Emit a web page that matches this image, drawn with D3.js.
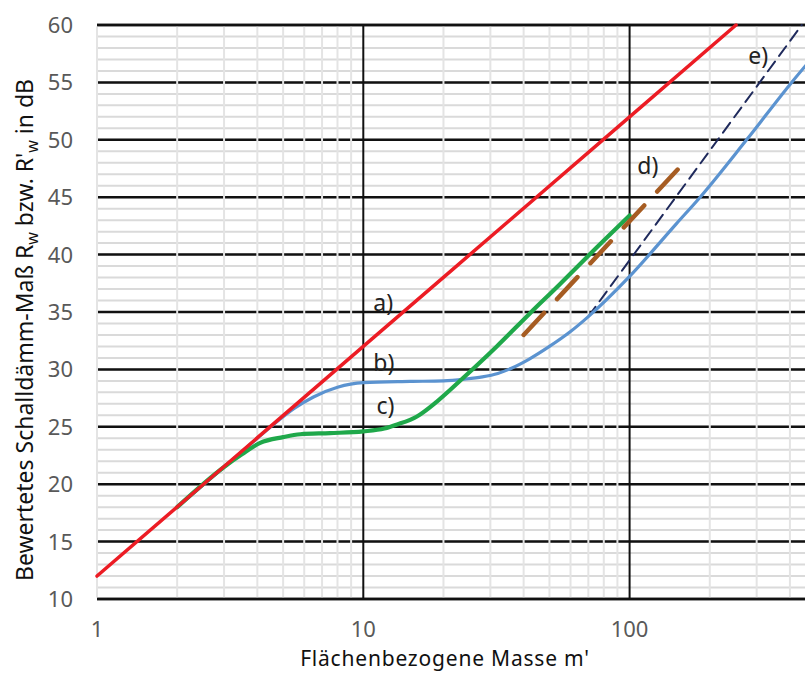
<!DOCTYPE html>
<html>
<head>
<meta charset="utf-8">
<script src="https://cdn.jsdelivr.net/npm/d3@7"></script>
<style>
  body { margin: 0; background: #fff; }
  svg { display: block; font-family: "Noto Sans", "Open Sans", sans-serif; }
</style>
</head>
<body>
<div id="chart"></div>
<script>
// curve a) - mass law
const massA = [1, 10, 100, 251];
const rA = [12, 32, 52, 60];

// curve b)
const massB = [2, 3, 4, 4.6, 5.5, 6.5, 8, 10, 15, 20, 24, 28, 32, 36, 42, 50, 60, 70, 100, 150, 184, 275, 406, 500];
const rB = [18, 21.5, 24, 25.2, 26.6, 27.6, 28.45, 28.85, 28.95, 29.0, 29.15, 29.35, 29.65, 30.1, 30.9, 32.0, 33.3, 34.6, 38.1, 42.7, 45, 50, 55, 57.5];

// curve c)
const massC = [2, 3, 3.5, 4.1, 5, 5.8, 7.5, 10, 12, 13.4, 15.9, 18.9, 23.7, 31.7, 42.3, 54.6, 70, 100];
const rC = [18, 21.5, 22.6, 23.6, 24.1, 24.35, 24.45, 24.6, 24.85, 25.2, 25.9, 27.2, 29.25, 32.0, 34.9, 37.4, 39.9, 43.4];

// curve d)
const massD = [40, 160];
const rD = [33, 48];

// curve e)
const massE = [70, 443];
const rE = [34.6, 60];

const curveLabels = ["a)", "b)", "c)", "d)", "e)"];
const labelMass = [10.9, 10.9, 11.2, 106.9, 279];
const labelR = [35.1, 29.9, 26.1, 47.0, 56.6];

const xTicks = [1, 10, 100];
const yTicks = [10, 15, 20, 25, 30, 35, 40, 45, 50, 55, 60];

const width = 805;
const height = 673;
const margin = {top: 25, left: 97, bottom: 74};

const svg = d3.select("#chart")
    .append("svg")
    .attr("width", width)
    .attr("height", height);

const x = d3.scaleLog()
    .domain([1, 1000])
    .range([margin.left, margin.left + 3 * 266.3]);

const y = d3.scaleLinear()
    .domain([10, 60])
    .range([height - margin.bottom, margin.top]);

const grid = svg.append("g");

// minor horizontal lines, every dB
grid.selectAll(".hmin")
    .data(d3.range(10, 61))
    .join("line")
      .attr("x1", x(1)).attr("x2", width)
      .attr("y1", d => y(d)).attr("y2", d => y(d))
      .attr("stroke", "#dadada")
      .attr("stroke-width", 2);

// major horizontal lines
grid.selectAll(".hmaj")
    .data(yTicks)
    .join("line")
      .attr("x1", x(1)).attr("x2", width)
      .attr("y1", d => y(d)).attr("y2", d => y(d))
      .attr("stroke", "#111")
      .attr("stroke-width", 2.5);

// minor vertical lines drawn over the major horizontals
const minorMass = [];
for (const dec of [1, 10, 100]) {
    for (let k = 1; k <= 9; k++) minorMass.push(k * dec);
}
grid.selectAll(".vmin")
    .data(minorMass.filter(d => d !== 10 && d !== 100))
    .join("line")
      .attr("x1", d => x(d)).attr("x2", d => x(d))
      .attr("y1", y(60) + 1.5).attr("y2", y(10) - 1.5)
      .attr("stroke", "#e4e4e4")
      .attr("stroke-width", 2);

// major vertical lines
grid.selectAll(".vmaj")
    .data([10, 100])
    .join("line")
      .attr("x1", d => x(d)).attr("x2", d => x(d))
      .attr("y1", y(60)).attr("y2", y(10))
      .attr("stroke", "#111")
      .attr("stroke-width", 2);

// top and bottom lines kept solid
grid.selectAll(".edge")
    .data([10, 60])
    .join("line")
      .attr("x1", x(1)).attr("x2", width)
      .attr("y1", d => y(d)).attr("y2", d => y(d))
      .attr("stroke", "#111")
      .attr("stroke-width", 2.5);

const line = d3.line()
    .x(d => x(d[0]))
    .y(d => y(d[1]))
    .curve(d3.curveMonotoneX);

function drawCurve(mass, r, color, w, dash) {
    svg.append("path")
        .datum(d3.zip(mass, r))
        .attr("d", line)
        .attr("fill", "none")
        .attr("stroke", color)
        .attr("stroke-width", w)
        .attr("stroke-linecap", "round")
        .attr("stroke-dasharray", dash);
}

drawCurve(massE, rE, "#1f2a5c", 2, "12 7");
drawCurve(massB, rB, "#5b93d0", 3.2, null);
drawCurve(massC, rC, "#1fa84a", 4.2, null);
drawCurve(massD, rD, "#a65c22", 4.5, "30 19");
drawCurve(massA, rA, "#ec1c24", 3.5, null);

// curve labels
svg.selectAll(".lbl")
    .data(curveLabels)
    .join("text")
      .attr("x", (d, i) => x(labelMass[i]))
      .attr("y", (d, i) => y(labelR[i]))
      .attr("font-size", "23px")
      .attr("fill", "#222")
      .text(d => d);

// tick labels
svg.selectAll(".yt")
    .data(yTicks)
    .join("text")
      .attr("x", 73)
      .attr("y", d => y(d))
      .attr("dy", "0.36em")
      .attr("text-anchor", "end")
      .attr("font-size", "22px")
      .attr("fill", "#595959")
      .text(d => d);

svg.selectAll(".xt")
    .data(xTicks)
    .join("text")
      .attr("x", d => x(d))
      .attr("y", 637)
      .attr("text-anchor", "middle")
      .attr("font-size", "22px")
      .attr("fill", "#595959")
      .text(d => d);

// axis titles
svg.append("text")
    .attr("x", 445)
    .attr("y", 666)
    .attr("text-anchor", "middle")
    .attr("font-size", "21px")
    .attr("letter-spacing", "0.8px")
    .attr("fill", "#111")
    .text("Flächenbezogene Masse m'");

const yTitle = svg.append("text")
    .attr("transform", "translate(33, 330) rotate(-90)")
    .attr("text-anchor", "middle")
    .attr("font-size", "23px")
    .attr("fill", "#111");
yTitle.append("tspan").text("Bewertetes Schalldämm-Maß R");
yTitle.append("tspan").attr("font-size", "16px").attr("dy", 5).text("w");
yTitle.append("tspan").attr("dy", -5).text(" bzw. R'");
yTitle.append("tspan").attr("font-size", "16px").attr("dy", 5).text("w");
yTitle.append("tspan").attr("dy", -5).text(" in dB");
</script>
</body>
</html>
